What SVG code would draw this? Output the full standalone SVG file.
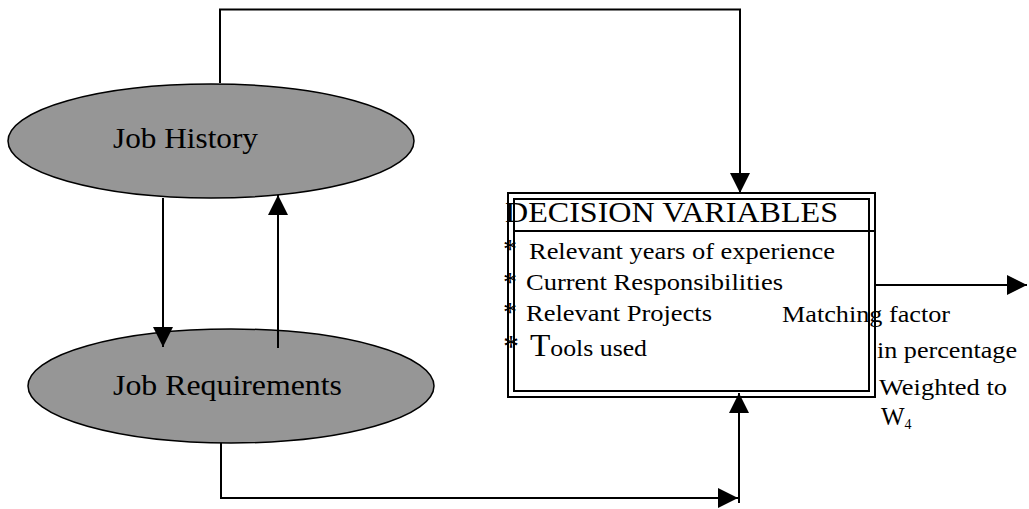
<svg xmlns="http://www.w3.org/2000/svg" width="1029" height="509" viewBox="0 0 1029 509">
<style>
.t{font-family:"Liberation Serif","Times New Roman",serif;fill:#000}
.node{fill:#969696;stroke:#000;stroke-width:1.5}
.conn{fill:none;stroke:#000;stroke-width:2}
.box{fill:none;stroke:#000;stroke-width:2}
.star{font-size:28px}
</style>
<defs>
<marker id="arr" viewBox="0 0 20 20" refX="20" refY="10" markerWidth="20" markerHeight="20" markerUnits="userSpaceOnUse" orient="auto">
<path d="M0,0 L20,10 L0,20 Z" fill="#000"/>
</marker>
</defs>
<rect width="1029" height="509" fill="#fff"/>
<g id="job-history">
<ellipse class="node" cx="211" cy="141" rx="203" ry="57"/>
<text class="t" x="113" y="148" font-size="29" textLength="145" lengthAdjust="spacingAndGlyphs">Job History</text>
</g>
<g id="job-requirements">
<ellipse class="node" cx="231" cy="386" rx="203" ry="57"/>
<text class="t" x="113" y="395" font-size="29" textLength="229" lengthAdjust="spacingAndGlyphs">Job Requirements</text>
</g>
<g id="decision-variables">
<rect class="box" x="508" y="193" width="367" height="204"/>
<rect class="box" x="514" y="199" width="355" height="192"/>
<line class="box" x1="514" y1="231" x2="874" y2="231"/>
<text class="t" x="505" y="222" font-size="29" textLength="333" lengthAdjust="spacingAndGlyphs">DECISION VARIABLES</text>
<text class="t star" x="503" y="258">*</text>
<text class="t" x="529" y="259" font-size="24" textLength="306" lengthAdjust="spacingAndGlyphs">Relevant years of experience</text>
<text class="t star" x="503" y="291">*</text>
<text class="t" x="526" y="290" font-size="24" textLength="257" lengthAdjust="spacingAndGlyphs">Current Responsibilities</text>
<text class="t star" x="503" y="321">*</text>
<text class="t" x="526" y="321" font-size="24" textLength="186" lengthAdjust="spacingAndGlyphs">Relevant Projects</text>
<text class="t star" x="503" y="357" font-size="32" style="font-size:32px">*</text>
<text class="t" x="530" y="356" font-size="24" textLength="117" lengthAdjust="spacingAndGlyphs"><tspan font-size="31">T</tspan>ools used</text>
</g>
<g id="output-label">
<text class="t" x="782" y="322" font-size="24" textLength="168" lengthAdjust="spacingAndGlyphs">Matching factor</text>
<text class="t" x="877" y="358" font-size="24" textLength="140" lengthAdjust="spacingAndGlyphs">in percentage</text>
<text class="t" x="879" y="395" font-size="24" textLength="128" lengthAdjust="spacingAndGlyphs">Weighted to</text>
<text class="t" x="881" y="425" font-size="25">W<tspan font-size="14" dy="4">4</tspan></text>
</g>
<g id="connectors">
<path class="conn" d="M220,83 V9.5 H740 V193" marker-end="url(#arr)"/>
<path class="conn" d="M163,198 V347" marker-end="url(#arr)"/>
<path class="conn" d="M278,348 V195" marker-end="url(#arr)"/>
<path class="conn" d="M221,443 V498 H738" marker-end="url(#arr)"/>
<path class="conn" d="M739,503 V393" marker-end="url(#arr)"/>
<path class="conn" d="M875,285 H1027" marker-end="url(#arr)"/>
</g>
</svg>
